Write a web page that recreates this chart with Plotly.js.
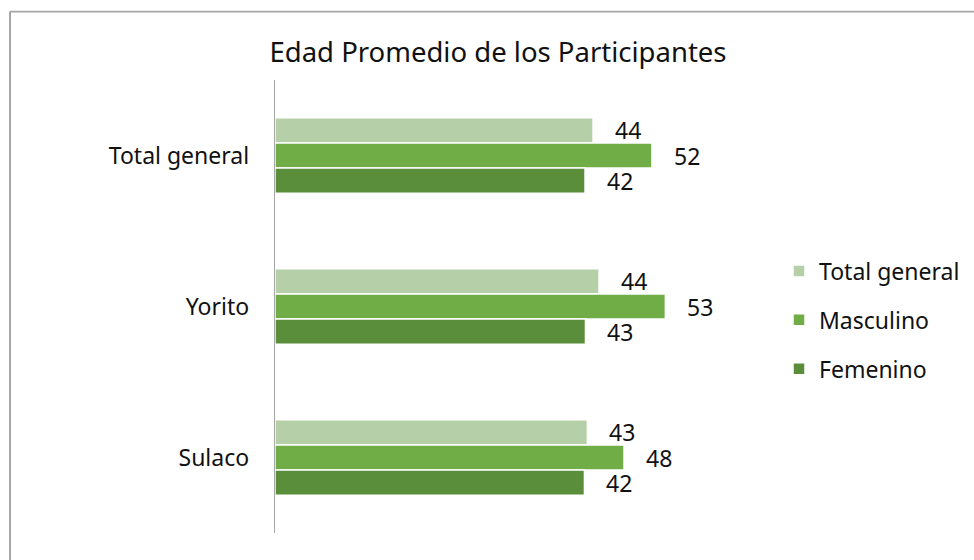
<!DOCTYPE html>
<html>
<head>
<meta charset="utf-8">
<script src="https://cdn.plot.ly/plotly-3.0.1.min.js"></script>
<style>html,body{margin:0;padding:0;background:#fff;}#chart{width:974px;height:560px;}</style>
</head>
<body>
<div id="chart"></div>
<script>
// Data
const categories = ['Total general', 'Yorito', 'Sulaco'];
const seriesNames = ['Total general', 'Masculino', 'Femenino'];
const totalGeneral = [43.57, 44.39, 42.80];
const masculino = [51.64, 53.48, 47.81];
const femenino = [42.47, 42.53, 42.39];
const colors = ['#b5d0a8', '#70ad47', '#5a8e3a'];

const W = 974, H = 560;
const mL = 275, mR = 261, mT = 80, mB = 27;
const bargap = 0.5;
const FONT = 'Noto Sans, sans-serif';
const FS = 23;

const seriesVals = [totalGeneral, masculino, femenino];
const traces = seriesVals.map((vals, i) => ({
  type: 'bar',
  orientation: 'h',
  name: seriesNames[i],
  legendgroup: 'g' + i,
  y: categories,
  x: vals,
  marker: {color: colors[i], line: {color: '#ffffff', width: 1.5}},
  hoverinfo: 'x+name'
}));

// data labels placed after bar ends
const groupW = 1 - bargap;
const annotations = [];
seriesVals.forEach((vals, i) => {
  vals.forEach((v, j) => {
    annotations.push({
      x: v, y: j + (i - 1) * groupW / 3, xref: 'x', yref: 'y',
      text: String(Math.round(v)), showarrow: false,
      xanchor: 'left', yanchor: 'middle', xshift: 20,
      font: {family: FONT, size: FS, color: '#111'}
    });
  });
});

// outer chart border (left + top)
const pw = W - mL - mR, ph = H - mT - mB;
const px = p => (p - mL) / pw;
const py = p => (H - mB - p) / ph;
const shapes = [
  {type: 'line', xref: 'paper', yref: 'paper', x0: px(10), x1: px(10), y0: py(575), y1: py(11.5), line: {color: '#a6a6a6', width: 2}},
  {type: 'line', xref: 'paper', yref: 'paper', x0: px(10), x1: px(990), y0: py(11.5), y1: py(11.5), line: {color: '#a6a6a6', width: 1.75}}
];

const layout = {
  width: W, height: H,
  margin: {l: mL, r: mR, t: mT, b: mB},
  paper_bgcolor: '#ffffff', plot_bgcolor: '#ffffff',
  font: {family: FONT, size: FS, color: '#111'},
  title: {text: 'Edad Promedio de los Participantes', x: 498 / W, xanchor: 'center', xref: 'container',
          y: 1 - 52 / H, yanchor: 'middle', yref: 'container', font: {family: FONT, size: 27.5, color: '#111'}},
  barmode: 'group', bargap: bargap, bargroupgap: 0,
  xaxis: {range: [0, 60], visible: false, showgrid: false, zeroline: false, fixedrange: true},
  yaxis: {type: 'category', categoryorder: 'array', categoryarray: categories, range: [2.5, -0.5],
          showline: true, linecolor: '#a6a6a6', linewidth: 1.25, ticks: '', showgrid: false, zeroline: false,
          ticklabelstandoff: 20, tickfont: {family: FONT, size: FS, color: '#111'}, fixedrange: true},
  showlegend: true,
  legend: {x: 779 / W, xref: 'container', xanchor: 'left', y: 1 - 320 / H, yref: 'container', yanchor: 'middle',
           traceorder: 'grouped', tracegroupgap: 16, itemwidth: 30,
           font: {family: FONT, size: FS, color: '#111'}, bgcolor: 'rgba(0,0,0,0)'},
  annotations: annotations,
  shapes: shapes
};

Plotly.newPlot('chart', traces, layout, {displayModeBar: false, staticPlot: true});
</script>
</body>
</html>
